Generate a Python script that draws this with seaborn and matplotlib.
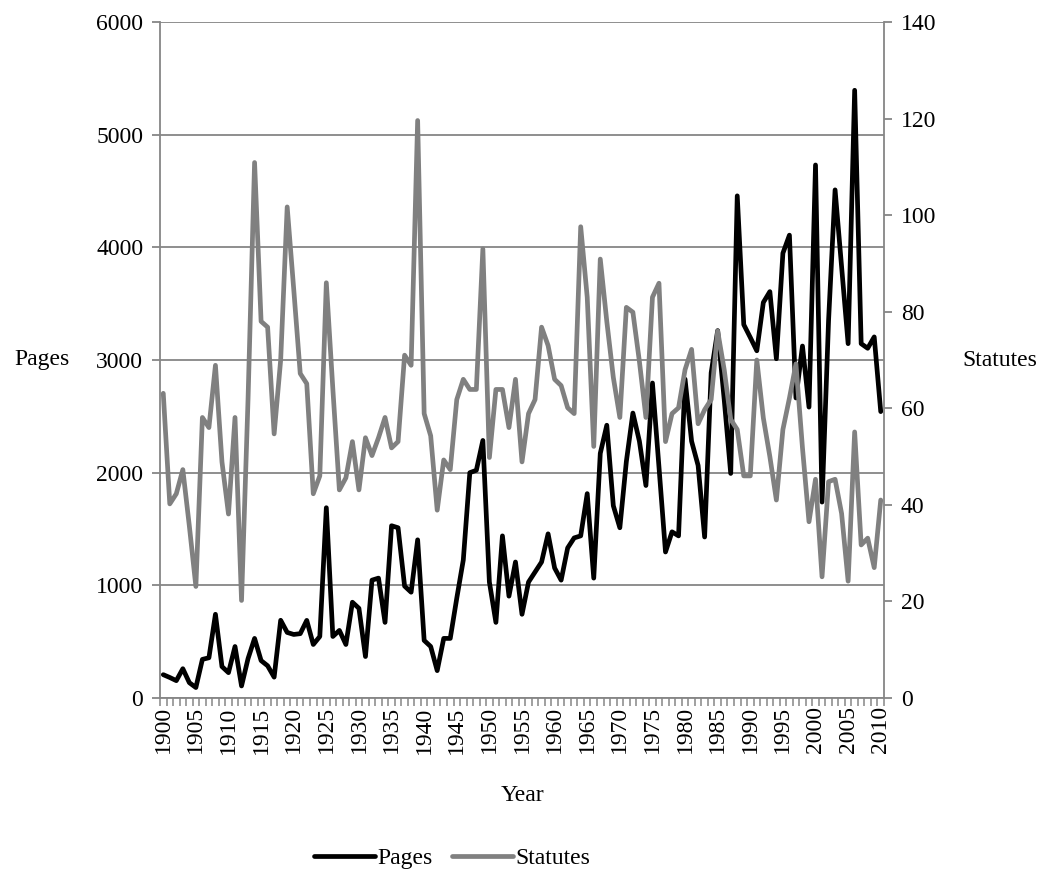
import numpy as np
import pandas as pd
import seaborn as sns
import matplotlib.pyplot as plt

sns.set_style("ticks")
plt.rcParams["font.family"] = ["Liberation Serif", "DejaVu Serif"]
plt.rcParams["font.size"] = 17
plt.rcParams["text.color"] = "black"
plt.rcParams["axes.labelcolor"] = "black"

# Years 1900-2010, one value per year
years = list(range(1900, 2011))
pages = [207, 182, 154, 260, 136, 93, 343, 357, 743, 279,
         225, 457, 107, 350, 529, 332, 286, 185, 690, 582,
         564, 571, 689, 475, 546, 1689, 546, 600, 475, 850,
         796, 368, 1046, 1064, 671, 1529, 1511, 993, 939, 1404,
         511, 457, 243, 529, 529, 886, 1225, 2000, 2021, 2286,
         1029, 671, 1439, 904, 1207, 743, 1029, 1118, 1207, 1457,
         1154, 1046, 1332, 1421, 1439, 1814, 1064, 2171, 2421, 1707,
         1511, 2100, 2529, 2279, 1886, 2796, 2050, 1296, 1475, 1439,
         2830, 2279, 2064, 1429, 2886, 3261, 2650, 1993, 4457, 3314,
         3200, 3082, 3511, 3607, 3011, 3948, 4108, 2663, 3124, 2582,
         4731, 1739, 3350, 4510, 3827, 3145, 5394, 3145, 3104, 3205,
         2542]
statutes = [63.1, 40.2, 42.3, 47.3, 35.6, 23.1, 58.1, 56, 68.9, 48.9,
            38.1, 58.1, 20.2, 62, 110.9, 78, 76.8, 54.7, 70, 101.7,
            84.7, 67.2, 65.1, 42.3, 46, 86, 64, 43.1, 45.6, 53.1,
            43.1, 53.9, 50.2, 53.9, 58.1, 51.8, 53.1, 71, 68.9, 119.6,
            58.9, 54.3, 38.9, 49.3, 47.3, 61.8, 66, 63.9, 63.9, 93,
            49.8, 63.9, 63.9, 56, 66, 48.9, 58.9, 61.8, 76.8, 73,
            66, 64.7, 60.1, 58.9, 97.6, 83, 52.1, 90.9, 78, 66.4,
            58.1, 80.9, 79.9, 69.7, 58.1, 83, 85.9, 53.1, 58.9, 60.1,
            68, 72.2, 56.8, 59.7, 61.8, 76, 68, 57.7, 55.6, 46,
            46, 70, 58, 50, 41, 55.6, 62.1, 69.2, 51.8, 36.5,
            45.3, 25.1, 44.8, 45.3, 38.2, 24.2, 55.1, 31.7, 33.1, 27,
            41]

df = pd.DataFrame({"Year": years, "Pages": pages, "Statutes": statutes})

grey = "#868686"
fig = plt.figure(figsize=(10.47, 8.76), dpi=100)
ax = fig.add_axes([160 / 1047, 1 - 698 / 876, 724 / 1047, 676 / 876])
ax2 = ax.twinx()

sns.lineplot(data=df, x="Year", y="Pages", ax=ax, color="black", lw=3.4, label="Pages", legend=False)
sns.lineplot(data=df, x="Year", y="Statutes", ax=ax2, color="#808080", lw=3.4, label="Statutes", legend=False)

ax.set_xlim(1899.5, 2010.5)
ax.set_ylim(0, 6000)
ax2.set_ylim(0, 140)
ax.set_yticks(range(0, 6001, 1000))
ax2.set_yticks(range(0, 141, 20))
ax.set_xticks(range(1900, 2011, 5))
ax.set_xticklabels([str(y) for y in range(1900, 2011, 5)], rotation=90)
ax.set_xticks(np.arange(1899.5, 2011, 1), minor=True)

ax.grid(axis="y", color=grey, lw=1.3)
ax.set_axisbelow(True)
for a in (ax, ax2):
    for s in a.spines.values():
        s.set_color(grey)
        s.set_linewidth(1.3)
    a.spines["top"].set_visible(False)
ax.spines["right"].set_visible(False)
ax2.spines["left"].set_visible(False)
ax2.spines["bottom"].set_visible(False)

ax.tick_params(axis="x", which="major", length=0, pad=6, labelcolor="black")
ax.tick_params(axis="x", which="minor", length=6, color=grey, width=1.1)
ax.tick_params(axis="y", length=6, color=grey, width=1.3, pad=6, labelcolor="black")
ax2.tick_params(axis="y", length=6, color=grey, width=1.3, pad=6, labelcolor="black")

ax.set_ylabel("Pages", rotation=0, ha="center", va="center")
ax.yaxis.set_label_coords(-0.163, 0.5)
ax2.set_ylabel("Statutes", rotation=0, ha="center", va="center")
ax2.yaxis.set_label_coords(1.16, 0.5)
ax.set_xlabel("Year")
ax.xaxis.set_label_coords(0.5, -0.128)

h1, l1 = ax.get_legend_handles_labels()
h2, l2 = ax2.get_legend_handles_labels()
fig.legend(h1 + h2, l1 + l2, loc="center", bbox_to_anchor=(452 / 1047, 1 - 858 / 876),
           ncol=2, frameon=False, handlelength=2.6, handletextpad=0.1, columnspacing=0.8)

fig.savefig("out.png", dpi=100)
